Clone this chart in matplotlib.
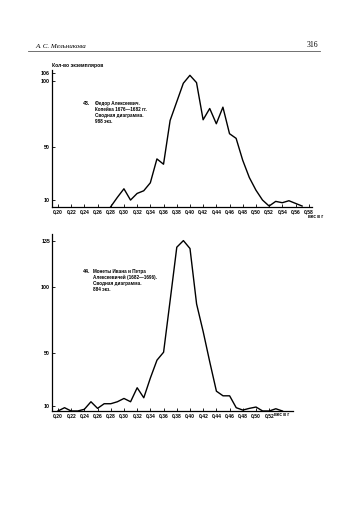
import matplotlib
matplotlib.use("Agg")
import matplotlib.pyplot as plt


# 43. Fyodor Alekseevich kopecks, 1676-1682
weights1 = [0.28, 0.29, 0.30, 0.31, 0.32, 0.33, 0.34, 0.35, 0.36, 0.37,
            0.38, 0.39, 0.40, 0.41, 0.42, 0.43, 0.44, 0.45, 0.46, 0.47,
            0.48, 0.49, 0.50, 0.51, 0.52, 0.53, 0.54, 0.55, 0.56, 0.57]
counts1 = [5, 12, 18.5, 10, 15, 17, 23, 41, 37, 70,
           84, 98, 104, 98.5, 70.5, 79, 67.5, 80, 60, 56.5,
           40, 27, 17.5, 10, 5.5, 9, 8, 9.5, 7.5, 5.5]

# 44. Ivan and Peter Alekseevich, 1682-1696
weights2 = [0.20, 0.21, 0.22, 0.23, 0.24, 0.25, 0.26, 0.27, 0.28, 0.29,
            0.30, 0.31, 0.32, 0.33, 0.34, 0.35, 0.36, 0.37, 0.38, 0.39,
            0.40, 0.41, 0.42, 0.43, 0.44, 0.45, 0.46, 0.47, 0.48, 0.49,
            0.50, 0.51, 0.52, 0.53, 0.54]
counts2 = [6, 8.5, 6, 6, 7.3, 13, 8, 11.5, 11.5, 13,
           15.5, 13, 23.6, 16, 31, 44.5, 50.5, 90, 130, 135,
           129, 87, 66, 43, 21, 17.5, 17.5, 8.5, 6.7, 8,
           9, 6, 6, 7.7, 6]

xticks1 = [0.20 + 0.02 * i for i in range(20)]
xticks2 = [0.20 + 0.02 * i for i in range(17)]
yticks1 = [10, 50, 100, 106]
yticks2 = [10, 50, 100, 135]

caption1 = "Федор Алексеевич.\nКопейка 1676—1682 гг.\nСводная диаграмма.\n988 экз."
caption2 = "Монеты Ивана и Петра\nАлексеевичей (1682—1696).\nСводная диаграмма.\n884 экз."

plt.rcParams['font.family'] = ['Liberation Sans', 'DejaVu Sans']

W, H = 350, 524
fig = plt.figure(figsize=(W / 100, H / 100), dpi=100)
fig.patch.set_facecolor("white")


def px(x0, y_top, x1, y_bot):
    return [x0 / W, 1 - y_bot / H, (x1 - x0) / W, (y_bot - y_top) / H]


def style(ax, xticks, yticks):
    for s in ("top", "right"):
        ax.spines[s].set_visible(False)
    for s in ("left", "bottom"):
        ax.spines[s].set_linewidth(0.9)
    ax.set_xticks(xticks)
    ax.set_xticklabels([f"{t:.2f}".replace(".", ",") for t in xticks],
                       fontsize=3.6, fontweight="bold")
    ax.set_yticks(yticks)
    ax.set_yticklabels([str(t) for t in yticks], fontsize=3.8, fontweight="bold")
    ax.tick_params(axis="both", direction="in", length=2.5, width=0.6, pad=1.5)
    ax.patch.set_alpha(0)


ax1 = fig.add_axes(px(52, 70, 312, 206.7))
ax1.plot(weights1, counts1, color="black", lw=1.0)
ax1.set_xlim(0.191, 0.585)
ax1.set_ylim(5, 108)
style(ax1, xticks1, yticks1)
ax1.text(0.119, 0.77, "43.", transform=ax1.transAxes, fontsize=3.8, fontweight="bold", va="top")
ax1.text(0.165, 0.77, caption1, transform=ax1.transAxes, fontsize=3.3,
         fontweight="bold", va="top", linespacing=1.2)
fig.text(316 / W, 1 - 217 / H, "вес в г", fontsize=3.3, fontweight="bold",
         ha="center", va="center")

ax2 = fig.add_axes(px(52, 234, 293, 411))
ax2.plot(weights2, counts2, color="black", lw=1.0)
ax2.set_xlim(0.191, 0.556)
ax2.set_ylim(6, 140)
style(ax2, xticks2, yticks2)
ax2.text(0.129, 0.80, "44.", transform=ax2.transAxes, fontsize=3.8, fontweight="bold", va="top")
ax2.text(0.17, 0.80, caption2, transform=ax2.transAxes, fontsize=3.3,
         fontweight="bold", va="top", linespacing=1.2)
fig.text(274 / W, 1 - 414.5 / H, "вес в г", fontsize=3.3, fontweight="bold",
         ha="left", va="center")

# page header
fig.text(35 / W, 1 - 46 / H, "А. С. Мельникова", fontsize=5, style="italic",
         family="Liberation Serif", va="center")
fig.text(318 / W, 1 - 45 / H, "316", fontsize=5.5, family="Liberation Serif",
         ha="right", va="center")
fig.add_artist(plt.Line2D([28 / W, 320 / W], [1 - 50.5 / H, 1 - 50.5 / H],
                          color="0.35", lw=0.6))
fig.text(52 / W, 1 - 66 / H, "Кол-во экземпляров", fontsize=3.6, fontweight="bold",
         va="center")

fig.savefig("out.png", dpi=100, facecolor="white")
